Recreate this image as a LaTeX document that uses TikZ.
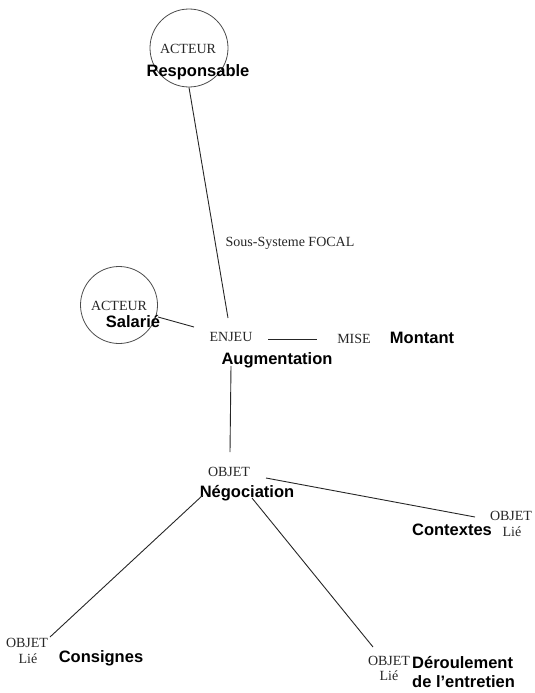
\documentclass[tikz,border=0pt]{standalone}
\usepackage{fontspec}
\setmainfont{Liberation Serif}
\newfontfamily\labelsans{Liberation Sans}
\begin{document}
\begin{tikzpicture}[x=1pt,y=-1pt,
  kind/.style={inner sep=0pt,font=\fontsize{14}{16}\selectfont,text=black!85},
  title/.style={inner sep=0pt,font=\labelsans\bfseries\fontsize{16.5}{19}\selectfont,align=left},
  ring/.style={draw=black!70,line width=0.8pt},
  link/.style={draw=black!85,line width=0.9pt}]
\useasboundingbox (0,0) rectangle (535,693);

% actors
\node[ring,circle,minimum size=78pt,inner sep=0pt] (ring1) at (189,48) {};
\node[kind] (act1) at (188,49) {ACTEUR};
\node[title] (resp) at (198,72) {Responsable};

\node[ring,circle,minimum size=77pt,inner sep=0pt] (ring2) at (119,305) {};
\node[kind] (act2) at (119,306) {ACTEUR};
\node[title] (sal) at (133,322) {Salarié};

% focal subsystem
\node[kind] (focal) at (290,243) {Sous-Systeme FOCAL};
\node[kind] (enjeu) at (231,337) {ENJEU};
\node[title] (augm) at (277,360) {Augmentation};
\node[kind] (mise) at (354,339) {MISE};
\node[title] (mont) at (422,338) {Montant};

\node[kind] (objet) at (229,472) {OBJET};
\node[title] (nego) at (247,493) {Négociation};

% linked objects
\node[kind] (o1) at (511,516) {OBJET};
\node[kind] (l1) at (512,532) {Lié};
\node[title] (ctx) at (452,530) {Contextes};

\node[kind] (o2) at (27,643) {OBJET};
\node[kind] (l2) at (28,659) {Lié};
\node[title] (cons) at (101,658) {Consignes};

\node[kind] (o3) at (389,661) {OBJET};
\node[kind] (l3) at (389,676) {Lié};
\node[title,anchor=west] (der) at (412,672) {Déroulement\\de l’entretien};

% connector ends
\coordinate (e1) at (228,318);
\coordinate (e2a) at (158,317);
\coordinate (e2b) at (194,327);
\coordinate (e3a) at (268,339);
\coordinate (e3b) at (317,339);
\coordinate (e4a) at (231,366);
\coordinate (e4b) at (230,452);
\coordinate (e5a) at (266,478);
\coordinate (e5b) at (475,517);
\coordinate (e6a) at (203,495);
\coordinate (e6b) at (50,637);
\coordinate (e7a) at (252,498);
\coordinate (e7b) at (373,647);

\draw[link] (ring1.south) -- (e1);
\draw[link] (e2a) -- (e2b);
\draw[link] (e3a) -- (e3b);
\draw[link] (e4a) -- (e4b);
\draw[link] (e5a) -- (e5b);
\draw[link] (e6a) -- (e6b);
\draw[link] (e7a) -- (e7b);
\end{tikzpicture}
\end{document}
